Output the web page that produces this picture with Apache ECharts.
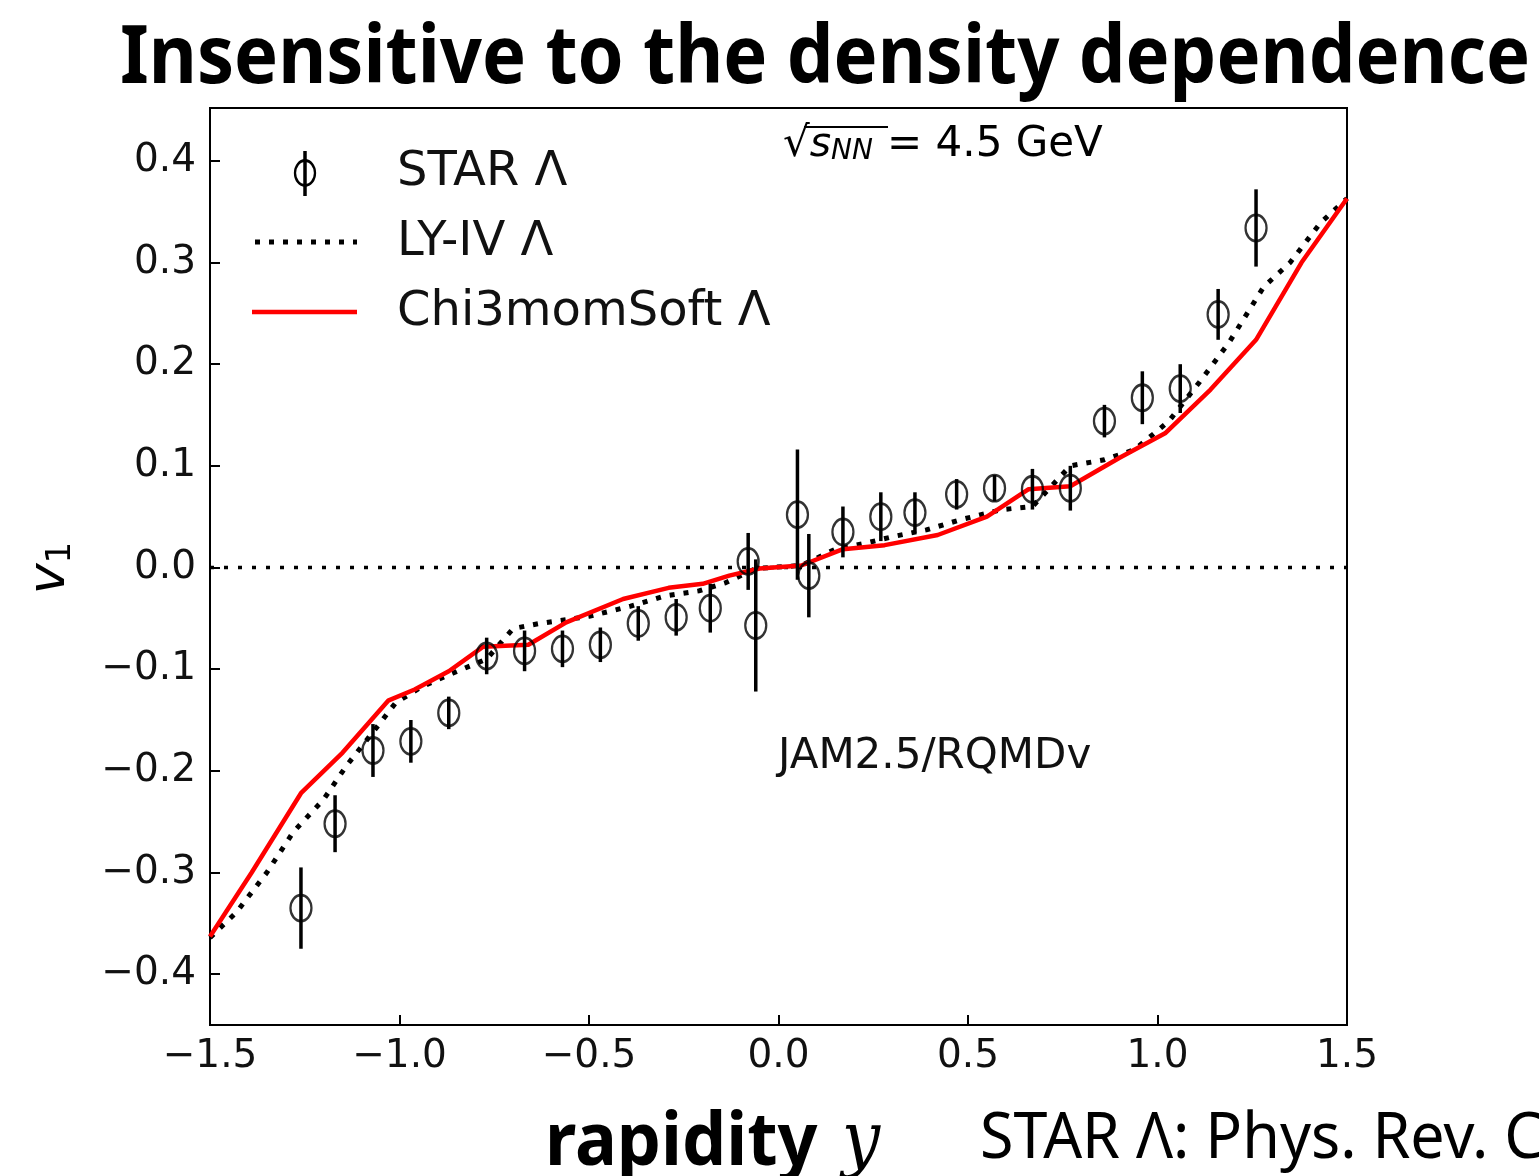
<!DOCTYPE html>
<html lang="en">
<head>
    <meta charset="UTF-8">
    <title>v1 vs rapidity</title>
    <script src="https://cdn.jsdelivr.net/npm/echarts@6/dist/echarts.min.js"></script>
    <style>
        html, body { margin: 0; padding: 0; background: #fff; }
        #chart { width: 1539px; height: 1176px; }
    </style>
</head>
<body>
<div id="chart"></div>
<script>
    // STAR Lambda data points (rapidity, v1, error)
    var starY = [-1.26, -1.17, -1.07, -0.97, -0.87, -0.77, -0.67, -0.57, -0.47, -0.37, -0.27, -0.18, -0.08, -0.06,
        0.05, 0.08, 0.17, 0.27, 0.36, 0.47, 0.57, 0.67, 0.77, 0.86, 0.96, 1.06, 1.16, 1.26]
    var starV = [-0.335, -0.252, -0.180, -0.171, -0.143, -0.087, -0.082, -0.080, -0.076, -0.055, -0.049, -0.040, 0.006, -0.057,
        0.052, -0.008, 0.035, 0.050, 0.054, 0.072, 0.078, 0.077, 0.078, 0.144, 0.167, 0.176, 0.249, 0.334]
    var starErr = [0.040, 0.028, 0.026, 0.021, 0.016, 0.018, 0.020, 0.018, 0.017, 0.017, 0.018, 0.024, 0.028, 0.065,
        0.064, 0.041, 0.025, 0.024, 0.020, 0.015, 0.013, 0.020, 0.022, 0.016, 0.026, 0.024, 0.025, 0.038]

    // LY-IV model curve
    var lyivY = [-1.5, -1.43, -1.35, -1.28, -1.2, -1.14, -1.07, -1.01, -0.94, -0.86, -0.77, -0.70, -0.63, -0.50, -0.39,
        -0.30, -0.21, -0.14, -0.06, 0.06, 0.15, 0.23, 0.31, 0.39, 0.48, 0.59, 0.67, 0.72, 0.77, 0.86, 0.94, 1.03,
        1.11, 1.19, 1.28, 1.35, 1.43, 1.5]
    var lyivV = [-0.364, -0.339, -0.300, -0.260, -0.228, -0.195, -0.162, -0.133, -0.117, -0.104, -0.090, -0.060, -0.055,
        -0.048, -0.038, -0.028, -0.023, -0.015, -0.001, 0.002, 0.018, 0.024, 0.031, 0.037, 0.047, 0.057, 0.060, 0.080,
        0.100, 0.106, 0.116, 0.144, 0.182, 0.222, 0.276, 0.300, 0.339, 0.363]

    // Chi3momSoft model curve
    var chiY = [-1.5, -1.39, -1.26, -1.15, -1.03, -0.96, -0.87, -0.78, -0.66, -0.56, -0.41, -0.29, -0.20, -0.13, -0.05,
        0.06, 0.17, 0.28, 0.42, 0.55, 0.66, 0.77, 0.90, 1.02, 1.14, 1.26, 1.38, 1.5]
    var chiV = [-0.363, -0.300, -0.222, -0.182, -0.131, -0.120, -0.102, -0.078, -0.076, -0.054, -0.031, -0.020, -0.016,
        -0.008, -0.001, 0.002, 0.018, 0.022, 0.032, 0.050, 0.077, 0.080, 0.108, 0.132, 0.175, 0.224, 0.300, 0.363]

    var zeroY = [-1.5, 1.5]
    var zeroV = [0, 0]

    var yTicks = [-0.4, -0.3, -0.2, -0.1, 0, 0.1, 0.2, 0.3, 0.4]
    var xTicks = [-1.5, -1.0, -0.5, 0, 0.5, 1.0, 1.5]

    function pairs(xs, ys) {
        return xs.map(function (x, i) { return [x, ys[i]] })
    }
    function fmt(v) {
        return v.toFixed(1).replace('-', '\u2212')
    }

    var chart = echarts.init(document.getElementById('chart'))

    var tickFont = 'DejaVu Sans'
    var option = {
        animation: false,
        backgroundColor: '#fff',
        grid: {
            left: 210, top: 108, width: 1137, height: 917,
            show: true, borderColor: '#000', borderWidth: 2, backgroundColor: 'transparent'
        },
        xAxis: {
            type: 'value', min: -1.5, max: 1.5,
            axisLine: { show: true, onZero: false, lineStyle: { color: '#000', width: 2 } },
            axisTick: { show: true, inside: true, length: 10, lineStyle: { color: '#000', width: 2 }, customValues: xTicks },
            axisLabel: {
                margin: 12, fontSize: 39, color: '#111', fontFamily: tickFont,
                customValues: xTicks, formatter: fmt
            },
            splitLine: { show: false }
        },
        yAxis: {
            type: 'value', min: -0.45, max: 0.452,
            axisLine: { show: true, onZero: false, lineStyle: { color: '#000', width: 2 } },
            axisTick: { show: true, inside: true, length: 10, lineStyle: { color: '#000', width: 2 }, customValues: yTicks },
            axisLabel: {
                margin: 14, fontSize: 39, color: '#111', fontFamily: tickFont,
                customValues: yTicks, formatter: fmt
            },
            splitLine: { show: false }
        },
        series: [{
            name: 'zero',
            type: 'line',
            data: pairs(zeroY, zeroV),
            symbol: 'none',
            lineStyle: { color: '#000', width: 3.5, type: [4, 10] },
            z: 1
        }, {
            name: 'LY-IV Λ',
            type: 'line',
            data: pairs(lyivY, lyivV),
            symbol: 'none',
            lineStyle: { color: '#000', width: 5, type: [5, 9] },
            z: 2
        }, {
            name: 'Chi3momSoft Λ',
            type: 'line',
            data: pairs(chiY, chiV),
            symbol: 'none',
            lineStyle: { color: '#ff0000', width: 4.5 },
            z: 3
        }, {
            name: 'STAR err',
            type: 'custom',
            data: starY.map(function (x, i) { return [x, starV[i], starErr[i]] }),
            encode: { x: 0, y: 1 },
            renderItem: function (params, api) {
                var x = api.value(0), y = api.value(1), e = api.value(2)
                var p1 = api.coord([x, y - e])
                var p2 = api.coord([x, y + e])
                return {
                    type: 'line',
                    shape: { x1: p1[0], y1: p1[1], x2: p2[0], y2: p2[1] },
                    style: { stroke: '#000', lineWidth: 3.5 }
                }
            },
            z: 4
        }, {
            name: 'STAR Λ',
            type: 'scatter',
            data: pairs(starY, starV),
            symbol: 'circle',
            symbolSize: [21, 26],
            itemStyle: { color: 'rgba(0,0,0,0)', borderColor: '#000', borderWidth: 2.5 },
            z: 5
        }],
        graphic: [
            // title
            {
                type: 'text', x: 120, y: 60, scaleY: 1.08,
                style: {
                    text: 'Insensitive to the density dependence', font: 'bold 74px "Noto Sans"', fill: '#000',
                    verticalAlign: 'middle'
                }
            },
            // y axis name
            {
                type: 'text', x: 50, y: 568, rotation: Math.PI / 2,
                style: {
                    text: '{v|v}{s|1}', align: 'center', verticalAlign: 'middle',
                    rich: {
                        v: { font: 'italic 52px "DejaVu Sans"', fill: '#000' },
                        s: { font: '34px "DejaVu Sans"', fill: '#000', padding: [22, 0, 0, 0] }
                    }
                }
            },
            // energy annotation
            {
                type: 'text', x: 783, y: 145,
                style: {
                    text: '{r|√}{i|s}{n|NN}{t|= 4.5 GeV}', verticalAlign: 'middle',
                    rich: {
                        r: { font: '42px "DejaVu Sans"', fill: '#000' },
                        i: { font: 'italic 41px "DejaVu Sans"', fill: '#000' },
                        n: { font: 'italic 28px "DejaVu Sans"', fill: '#000', padding: [14, 0, 0, 0] },
                        t: { font: '42px "DejaVu Sans"', fill: '#000', padding: [0, 0, 0, 14] }
                    }
                }
            },
            { type: 'line', shape: { x1: 804, y1: 127, x2: 888, y2: 127 }, style: { stroke: '#000', lineWidth: 2 } },
            // model label
            {
                type: 'text', x: 778, y: 757,
                style: { text: 'JAM2.5/RQMDv', font: '42px "DejaVu Sans"', fill: '#111', verticalAlign: 'middle' }
            },
            // legend
            { type: 'line', shape: { x1: 305, y1: 151, x2: 305, y2: 196 }, style: { stroke: '#000', lineWidth: 3.5 } },
            {
                type: 'circle', x: 305, y: 173, scaleY: 1.25, shape: { cx: 0, cy: 0, r: 10 },
                style: { fill: 'none', stroke: '#000', lineWidth: 2.3 }
            },
            {
                type: 'text', x: 397, y: 173,
                style: { text: 'STAR Λ', font: '48px "DejaVu Sans"', fill: '#111', verticalAlign: 'middle' }
            },
            {
                type: 'line', shape: { x1: 255, y1: 242, x2: 357, y2: 242 },
                style: { stroke: '#000', lineWidth: 5, lineDash: [5, 9] }
            },
            {
                type: 'text', x: 397, y: 243,
                style: { text: 'LY-IV Λ', font: '48px "DejaVu Sans"', fill: '#111', verticalAlign: 'middle' }
            },
            {
                type: 'line', shape: { x1: 252, y1: 312, x2: 357, y2: 312 },
                style: { stroke: '#ff0000', lineWidth: 4.5 }
            },
            {
                type: 'text', x: 397, y: 313,
                style: { text: 'Chi3momSoft Λ', font: '48px "DejaVu Sans"', fill: '#111', verticalAlign: 'middle' }
            },
            // bottom texts
            {
                type: 'text', x: 545, y: 1144, scaleY: 1.06,
                style: {
                    text: '{b|rapidity }{y|y}', verticalAlign: 'middle',
                    rich: {
                        b: { font: 'bold 70px "Noto Sans"', fill: '#000' },
                        y: { font: 'italic 68px "DejaVu Serif"', fill: '#000', padding: [0, 0, 0, 6] }
                    }
                }
            },
            {
                type: 'text', x: 980, y: 1140, scaleY: 1.06,
                style: { text: 'STAR Λ: Phys. Rev. C', font: '61px "Noto Sans"', fill: '#000', verticalAlign: 'middle' }
            }
        ]
    }
    chart.setOption(option)
</script>
</body>
</html>
